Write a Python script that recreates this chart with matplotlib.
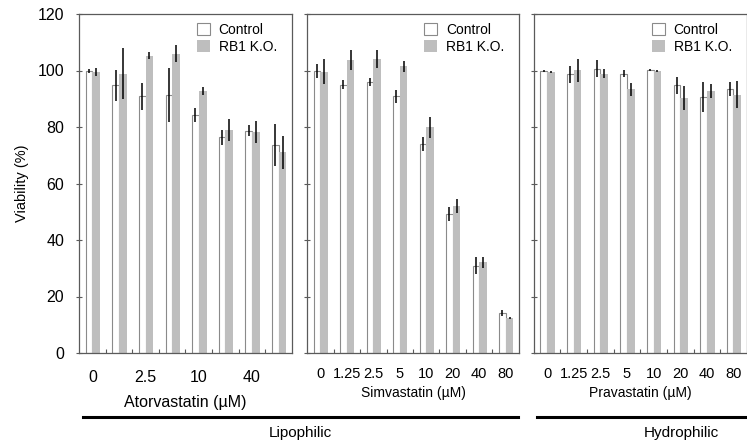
import matplotlib
matplotlib.use("Agg")
import matplotlib.pyplot as plt
import numpy as np

# ---------------- data ----------------
conc = ['0', '1.25', '2.5', '5', '10', '20', '40', '80']
ator_shown = ['0', '2.5', '10', '40']          # labels drawn under groups 0,2,4,6

ator_ctrl = [99.8, 94.7, 90.9, 91.2, 84.4, 76.4, 78.7, 73.7]
ator_ctrl_err = [0.8, 5.6, 4.8, 9.6, 2.5, 2.7, 2.0, 7.5]
ator_ko = [99.6, 98.9, 105.3, 106.0, 92.7, 79.0, 78.2, 71.1]
ator_ko_err = [1.4, 9.0, 1.4, 3.0, 1.4, 4.0, 4.0, 5.8]

simv_ctrl = [99.8, 95.0, 95.9, 90.8, 74.1, 49.2, 30.9, 14.1]
simv_ctrl_err = [2.5, 1.5, 1.3, 2.4, 2.5, 2.4, 3.0, 1.0]
simv_ko = [99.6, 103.8, 104.1, 101.5, 79.9, 51.9, 32.1, 12.3]
simv_ko_err = [4.3, 3.5, 3.1, 2.0, 3.8, 2.5, 2.0, 0.4]

prav_ctrl = [99.8, 98.6, 100.7, 98.9, 100.2, 94.7, 90.5, 93.5]
prav_ctrl_err = [0.5, 3.0, 3.0, 1.2, 0.3, 3.1, 5.3, 2.5]
prav_ko = [99.6, 100.1, 98.9, 93.3, 99.8, 90.3, 92.7, 91.5]
prav_ko_err = [0.4, 4.0, 1.5, 2.2, 0.4, 4.3, 2.4, 4.7]

series_names = ['Control', 'RB1 K.O.']
drug_labels = ['Atorvastatin (µM)', 'Simvastatin (µM)', 'Pravastatin (µM)']
group_labels = ['Lipophilic', 'Hydrophilic']
yticks = [0, 20, 40, 60, 80, 100, 120]

# ---------------- style ----------------
plt.rcParams['font.family'] = ['Liberation Sans', 'DejaVu Sans']
KO_COLOR = '#bebebe'
EDGE = '#8a8a8a'
SPINE = '#5a5a5a'

W, H = 747, 443
fig = plt.figure(figsize=(W / 100, H / 100), dpi=100)

def fx(px):
    return px / W

def fy(py):
    return 1 - py / H

panels = [
    (79.3, 291.7, ator_ctrl, ator_ctrl_err, ator_ko, ator_ko_err),
    (307.3, 518.7, simv_ctrl, simv_ctrl_err, simv_ko, simv_ko_err),
    (534.0, 746.5, prav_ctrl, prav_ctrl_err, prav_ko, prav_ko_err),
]
top_px, bot_px = 14.0, 353.0

axes = []
for i, (l, r, c, ce, k, ke) in enumerate(panels):
    ax = fig.add_axes([fx(l), fy(bot_px), fx(r - l), (bot_px - top_px) / H])
    axes.append(ax)
    x = np.arange(len(c))
    wc, wk = 0.25, 0.29
    ax.bar(x - wc / 2, c, width=wc, color='white', edgecolor=EDGE,
           linewidth=0.8, label=series_names[0], zorder=2)
    ax.bar(x + wk / 2, k, width=wk, color=KO_COLOR, edgecolor='none',
           label=series_names[1], zorder=2)
    ax.errorbar(x - wc / 2, c, yerr=ce, fmt='none', ecolor='black',
                elinewidth=1.1, capsize=0, zorder=3)
    ax.errorbar(x + wk / 2, k, yerr=ke, fmt='none', ecolor='black',
                elinewidth=1.1, capsize=0, zorder=3)
    ax.set_xlim(-0.49, len(c) - 0.51)
    ax.set_ylim(0, 120)
    ax.set_yticks(yticks)
    ax.tick_params(axis='y', direction='inout', length=4, width=0.8,
                   color=SPINE, labelsize=11.5, pad=9)
    if i > 0:
        ax.tick_params(axis='y', labelleft=False)
    # minor ticks at group boundaries
    ax.set_xticks(np.arange(len(c) - 1) + 0.5, minor=True)
    ax.tick_params(axis='x', which='minor', direction='in', length=3,
                   width=0.8, color=SPINE)
    if i == 0:
        ax.set_xticks(x[::2])
        ax.set_xticklabels(ator_shown, fontsize=11.5)
        ax.tick_params(axis='x', which='major', length=0, pad=12)
    else:
        ax.set_xticks(x)
        ax.set_xticklabels(conc, fontsize=10.5)
        ax.tick_params(axis='x', which='major', length=0, pad=10)
    for s in ax.spines.values():
        s.set_color(SPINE)
        s.set_linewidth(0.9)
    ax.legend(loc='upper right', frameon=False, fontsize=10,
              handlelength=0.95, handleheight=1.0, handletextpad=0.6,
              labelspacing=0.2, borderaxespad=0.2,
              bbox_to_anchor=(0.97, 0.998))

axes[0].set_ylabel('Viability (%)', fontsize=10.5, labelpad=6)

# drug labels
fig.text(fx(185.5), fy(402), drug_labels[0], ha='center', va='center',
         fontsize=11.5)
fig.text(fx(413), fy(393), drug_labels[1], ha='center', va='center',
         fontsize=10)
fig.text(fx(640), fy(393), drug_labels[2], ha='center', va='center',
         fontsize=10)

# group brackets
fig.add_artist(plt.Line2D([fx(83), fx(518)], [fy(417), fy(417)],
                          color='black', linewidth=2.2))
fig.add_artist(plt.Line2D([fx(537), fx(747)], [fy(417), fy(417)],
                          color='black', linewidth=2.2))
fig.text(fx(300), fy(433), group_labels[0], ha='center', va='center',
         fontsize=11)
fig.text(fx(681), fy(433), group_labels[1], ha='center', va='center',
         fontsize=11)

fig.savefig('out.png', dpi=100)
